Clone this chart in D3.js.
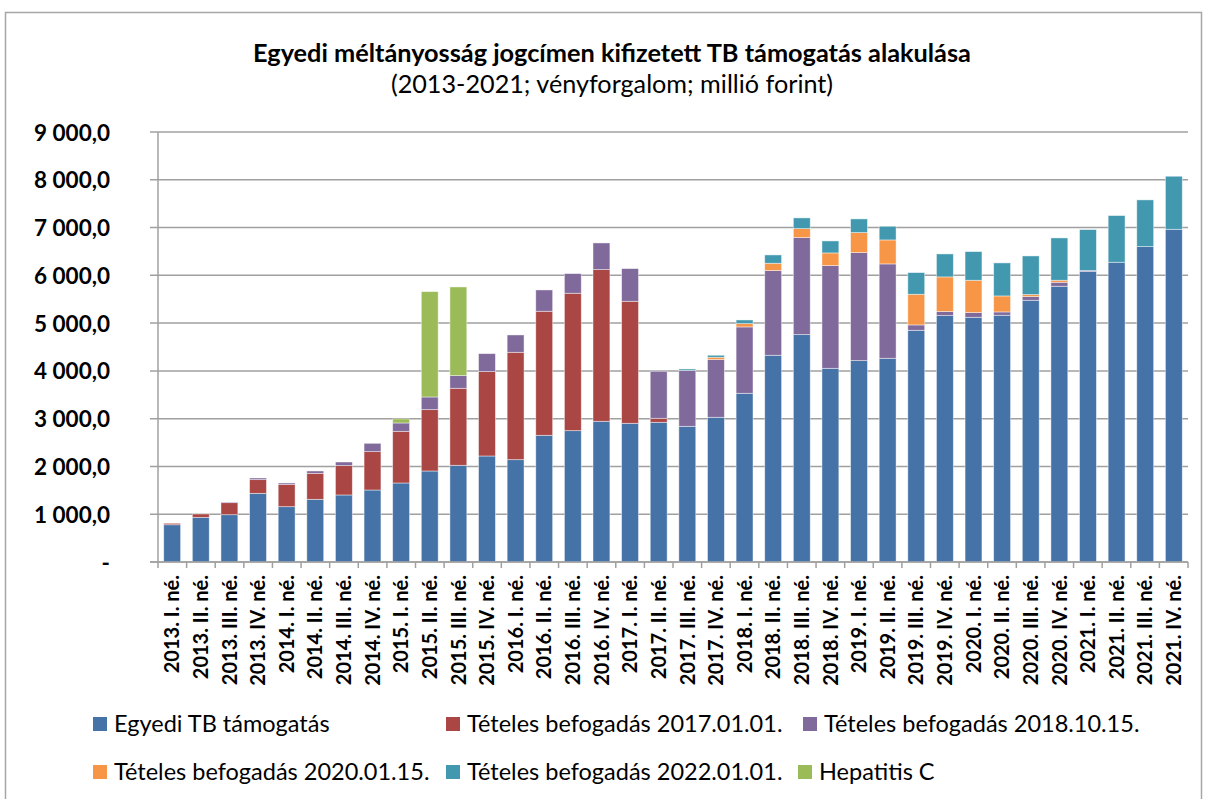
<!DOCTYPE html>
<html><head><meta charset="utf-8">
<script src="https://cdn.jsdelivr.net/npm/d3@7"></script>
<style>body{margin:0;background:#fff}svg{display:block}</style>
</head><body>
<svg id="c" width="1206" height="799"></svg>
<script>
const categories = ["2013. I. né.","2013. II. né.","2013. III. né.","2013. IV. né.","2014. I. né.","2014. II. né.","2014. III. né.","2014. IV. né.","2015. I. né.","2015. II. né.","2015. III. né.","2015. IV. né.","2016. I. né.","2016. II. né.","2016. III. né.","2016. IV. né.","2017. I. né.","2017. II. né.","2017. III. né.","2017. IV. né.","2018. I. né.","2018. II. né.","2018. III. né.","2018. IV. né.","2019. I. né.","2019. II. né.","2019. III. né.","2019. IV. né.","2020. I. né.","2020. II. né.","2020. III. né.","2020. IV. né.","2021. I. né.","2021. II. né.","2021. III. né.","2021. IV. né."];
const seriesNames = ["Egyedi TB támogatás","Tételes befogadás 2017.01.01.","Tételes befogadás 2018.10.15.","Tételes befogadás 2020.01.15.","Tételes befogadás 2022.01.01.","Hepatitis C"];
const egyedi = [780,935,990,1437,1158,1312,1403,1507,1654,1905,2024,2219,2142,2652,2749,2945,2903,2924,2840,3029,3531,4327,4759,4054,4215,4264,4850,5157,5122,5164,5478,5771,6078,6274,6601,6964];
const tet2017 = [30,70,252,287,468,544,614,803,1081,1284,1612,1766,2247,2596,2876,3175,2554,84,0,0,0,0,0,0,0,0,0,0,0,0,0,0,0,0,0,0];
const tet2018 = [0,0,14,34,28,49,76,174,175,265,265,376,363,446,411,558,684,984,1172,1207,1389,1772,2031,2150,2261,1975,112,84,98,70,77,84,21,0,0,0];
const tet2020 = [0,0,0,0,0,0,0,0,0,0,0,0,0,0,0,0,0,0,0,49,70,154,188,265,419,502,642,726,677,335,42,42,0,0,0,0];
const tet2022 = [0,0,0,0,0,0,0,0,0,0,0,0,0,0,0,0,0,0,28,42,76,174,224,251,286,286,453,481,600,691,809,886,858,977,978,1110];
const hepC = [0,0,0,0,0,0,0,0,84,2205,1856,0,0,0,0,0,0,0,0,0,0,0,0,0,0,0,0,0,0,0,0,0,0,0,0,0];
const yTicks = [0,1000,2000,3000,4000,5000,6000,7000,8000,9000];
const colors = ["#4572A7","#AA4643","#80699B","#F79646","#4198AF","#9BBB59"];

const FONT = "Lato, 'Open Sans', sans-serif";
const svg = d3.select("#c");
const seriesArr = [egyedi,tet2017,tet2018,tet2020,tet2022,hepC];
const rows = categories.map((c,i)=>{const o={cat:c}; seriesArr.forEach((s,k)=>o["s"+k]=s[i]); return o;});
const keys = seriesArr.map((s,k)=>"s"+k);
const stack = d3.stack().keys(keys)(rows);

// outer border
svg.append("rect").attr("x",5.5).attr("y",12.5).attr("width",1196).attr("height",800).attr("fill","none").attr("stroke","#a6a6a6").attr("stroke-width",1.5);

svg.append("text").attr("x",612).attr("y",62).attr("text-anchor","middle").attr("font-family",FONT).attr("font-weight","bold").attr("font-size",25.3).attr("fill","#000").text("Egyedi méltányosság jogcímen kifizetett TB támogatás alakulása");
svg.append("text").attr("x",612).attr("y",93).attr("text-anchor","middle").attr("font-family",FONT).attr("font-size",25.2).attr("fill","#000").text("(2013-2021; vényforgalom; millió forint)");

const x = d3.scaleBand().domain(categories).range([158,1188]).paddingInner(0.41).paddingOuter(0.2);
const y = d3.scaleLinear().domain([0,9000]).range([562,132]);

// gridlines
svg.append("g").selectAll("line").data(yTicks).join("line")
  .attr("x1",150).attr("x2",1188).attr("y1",d=>y(d)).attr("y2",d=>y(d))
  .attr("stroke","#a0a0a0").attr("stroke-width",1.5);

const fmt = d => d===0 ? "-" : d3.format(",.1f")(d).replace(/,/g," ").replace(".",",");
const yAxis = d3.axisLeft(y).tickValues(yTicks).tickFormat(fmt).tickSize(0).tickPadding(0);
const ya = svg.append("g").attr("transform","translate(110,0)").call(yAxis);
ya.select(".domain").remove();
ya.selectAll("text").attr("font-family",FONT).attr("font-weight","bold").attr("font-size",22.5).attr("fill","#000").attr("dy","0.36em");

// bars
svg.append("g").selectAll("g").data(stack).join("g").attr("fill",(d,i)=>colors[i])
  .selectAll("rect").data(d=>d.filter(p=>p[1]-p[0]>0)).join("rect")
  .attr("x",d=>x(d.data.cat)).attr("width",x.bandwidth())
  .attr("y",d=>y(d[1])).attr("height",d=>y(d[0])-y(d[1]))
  .attr("stroke","rgba(255,255,255,0.55)").attr("stroke-width",0.8);

// axes lines
svg.append("line").attr("x1",158).attr("x2",158).attr("y1",132).attr("y2",562).attr("stroke","#a0a0a0").attr("stroke-width",1.5);
const xa = d3.axisBottom(x).tickSize(0).tickFormat(d=>d);
const xg = svg.append("g").attr("transform","translate(0,562)").call(xa);
xg.select(".domain").attr("stroke","#a0a0a0").attr("stroke-width",1.5).attr("d","M150,0H1188");
xg.selectAll(".tick line").remove();
// category boundary ticks
svg.append("g").selectAll("line").data(d3.range(categories.length+1)).join("line")
  .attr("x1",i=>158+i*(1030/categories.length)).attr("x2",i=>158+i*(1030/categories.length))
  .attr("y1",562).attr("y2",568).attr("stroke","#a0a0a0").attr("stroke-width",1.5);
xg.selectAll(".tick text").attr("transform","rotate(-90)").attr("text-anchor","end")
  .attr("x",-13).attr("y",0).attr("dy","0.36em")
  .attr("font-family",FONT).attr("font-weight","bold").attr("font-size",20).attr("fill","#000");

// legend
const legendPos = [[93,724],[446,724],[803,724],[93,772],[446,772],[798,772]];
const lg = svg.append("g").selectAll("g").data(seriesNames).join("g")
  .attr("transform",(d,i)=>`translate(${legendPos[i][0]},${legendPos[i][1]})`);
lg.append("rect").attr("x",0).attr("y",-7).attr("width",14).attr("height",14).attr("fill",(d,i)=>colors[i]);
lg.append("text").attr("x",21).attr("y",0).attr("dy","0.35em").attr("font-family",FONT).attr("font-size",23.5).attr("fill","#000").text(d=>d);
</script>
</body></html>
